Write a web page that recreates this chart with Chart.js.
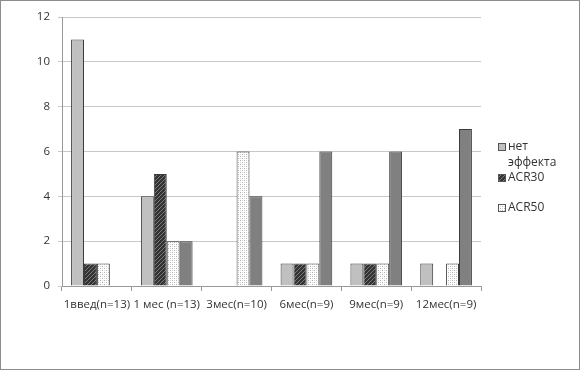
<!DOCTYPE html>
<html>
<head>
<meta charset="utf-8">
<script src="https://cdn.jsdelivr.net/npm/chart.js@4"></script>
<style>
  html, body { margin: 0; padding: 0; background: #fff; }
  #wrap { width: 583px; height: 374px; }
</style>
</head>
<body>
<div id="wrap"><canvas id="chart" width="583" height="374"></canvas></div>
<script>
/* ── DATA ──────────────────────────────────────────────── */
const categories = ['1введ(n=13)', '1 мес (n=13)', '3мес(n=10)', '6мес(n=9)', '9мес(n=9)', '12мес(n=9)'];
const noEffect   = [11, 4, 0, 1, 1, 1];
const acr30      = [1, 5, 0, 1, 1, 0];
const acr50      = [1, 2, 6, 1, 1, 1];
const fourth     = [0, 2, 4, 6, 6, 7];
const legendLabels = [['нет', 'эффекта'], ['ACR30'], ['ACR50']];

/* ── PATTERNS ──────────────────────────────────────────── */
function makePattern(draw) {
  const c = document.createElement('canvas');
  c.width = 4; c.height = 4;
  draw(c.getContext('2d'));
  return c.getContext('2d').createPattern(c, 'repeat');
}

const hatch = makePattern(ctx => {
  ctx.fillStyle = '#333333';
  ctx.fillRect(0, 0, 4, 4);
  ctx.fillStyle = '#7a7a7a';
  for (let i = 0; i < 4; i++) ctx.fillRect(i, 3 - i, 1, 1);
});

const dots = makePattern(ctx => {
  ctx.fillStyle = '#ffffff';
  ctx.fillRect(0, 0, 4, 4);
  ctx.fillStyle = '#b0b0b0';
  ctx.fillRect(0, 0, 1, 1);
  ctx.fillRect(2, 2, 1, 1);
  ctx.fillStyle = '#d8d8d8';
  ctx.fillRect(2, 0, 1, 1);
  ctx.fillRect(0, 2, 1, 1);
});

/* ── PLUGINS ───────────────────────────────────────────── */
const frame = {
  id: 'frame',
  afterDraw(chart) {
    const ctx = chart.ctx;
    ctx.save();
    ctx.strokeStyle = '#8c8c8c';
    ctx.lineWidth = 1;
    ctx.strokeRect(0.5, 0.5, 579, 369);
    ctx.restore();
  }
};

const sideLegend = {
  id: 'sideLegend',
  afterDraw(chart) {
    const ctx = chart.ctx;
    const rows = [147, 178, 208];
    ctx.save();
    ctx.font = '12px "Open Sans", "Noto Sans", sans-serif';
    ctx.textBaseline = 'middle';
    legendLabels.forEach((lines, i) => {
      const ds = chart.data.datasets[i];
      const y = rows[i];
      ctx.fillStyle = ds.backgroundColor;
      ctx.fillRect(498, y - 4, 8, 8);
      ctx.strokeStyle = '#555';
      ctx.strokeRect(498.5, y - 3.5, 7, 7);
      ctx.fillStyle = '#333';
      lines.forEach((t, j) => ctx.fillText(t, 508, y + j * 16));
    });
    ctx.restore();
  }
};

/* pin the plot box to the reference's 62..481 x 17..286 */
let fixes = 0;
const fixArea = {
  id: 'fixArea',
  afterLayout(chart) {
    const x = chart.scales.x, y = chart.scales.y;
    const dl = 62 - x.left, dr = x.right - 481, db = y.bottom - 286, dt = 17 - y.top;
    if ((dl || dr || db || dt) && fixes++ < 5) {
      const p = chart.options.layout.padding;
      p.left += dl; p.right += dr; p.bottom += db; p.top += dt;
      setTimeout(() => chart.update('none'), 0);
    }
  }
};

/* ── CHART ─────────────────────────────────────────────── */
const common = { borderColor: '#3c3c3c', borderWidth: 1, barPercentage: 1, categoryPercentage: 0.74 };

new Chart(document.getElementById('chart'), {
  type: 'bar',
  data: {
    labels: categories,
    datasets: [
      { label: 'нет эффекта', data: noEffect, backgroundColor: '#c0c0c0', ...common },
      { label: 'ACR30',       data: acr30,    backgroundColor: hatch,     ...common },
      { label: 'ACR50',       data: acr50,    backgroundColor: dots,      ...common },
      { label: '',            data: fourth,   backgroundColor: '#808080', ...common },
    ]
  },
  options: {
    responsive: false,
    animation: false,
    layout: { padding: { left: 37, right: 102, top: 17, bottom: 60 } },
    plugins: { legend: { display: false }, tooltip: { enabled: false } },
    scales: {
      x: {
        offset: true,
        grid: { offset: true, drawOnChartArea: false, color: '#999', tickLength: 5 },
        border: { color: '#999' },
        ticks: { color: '#333', font: { family: '"Open Sans", "Noto Sans", sans-serif', size: 11.5 }, maxRotation: 0, autoSkip: false, padding: 7 }
      },
      y: {
        min: 0, max: 12,
        ticks: { stepSize: 2, color: '#333', font: { family: '"Open Sans", "Noto Sans", sans-serif', size: 11.5 }, padding: 8 },
        grid: { color: '#c8c8c8', tickLength: 4 },
        border: { color: '#999' }
      }
    }
  },
  plugins: [frame, sideLegend, fixArea]
});
</script>
</body>
</html>
